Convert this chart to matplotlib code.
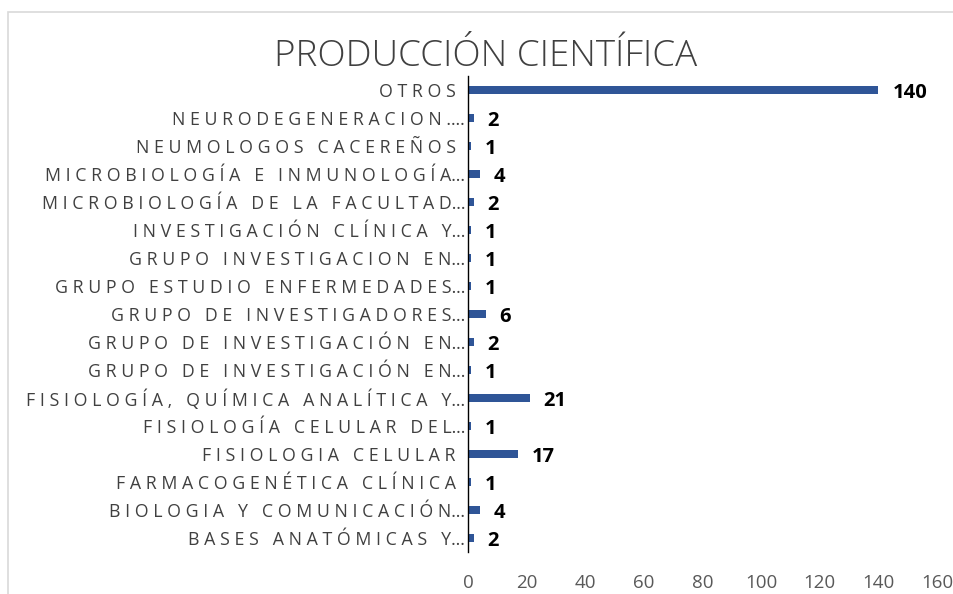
import matplotlib.pyplot as plt
from matplotlib.patches import Rectangle

# categories listed bottom -> top, as they appear on the chart
categories = [
    "BASES ANATÓMICAS Y…",
    "BIOLOGIA Y COMUNICACIÓN…",
    "FARMACOGENÉTICA CLÍNICA",
    "FISIOLOGIA CELULAR",
    "FISIOLOGÍA CELULAR DEL…",
    "FISIOLOGÍA, QUÍMICA ANALÍTICA Y…",
    "GRUPO DE INVESTIGACIÓN EN…",
    "GRUPO DE INVESTIGACIÓN EN…",
    "GRUPO DE INVESTIGADORES…",
    "GRUPO ESTUDIO ENFERMEDADES…",
    "GRUPO INVESTIGACION EN…",
    "INVESTIGACIÓN CLÍNICA Y…",
    "MICROBIOLOGÍA DE LA FACULTAD…",
    "MICROBIOLOGÍA E INMUNOLOGÍA…",
    "NEUMOLOGOS CACEREÑOS",
    "NEURODEGENERACION.…",
    "OTROS",
]
values = [2, 4, 1, 17, 1, 21, 1, 2, 6, 1, 1, 1, 2, 4, 1, 2, 140]
xticks = [0, 20, 40, 60, 80, 100, 120, 140, 160]

bar_color = "#2f5597"
text_grey = "#404040"


def spaced(s):
    # emulate the wide letter spacing of the original labels
    out = " ".join(ch for ch in s.replace("…", "\x00"))
    out = out.replace(" \x00", "…").replace("\x00", "…")
    if not s.endswith("…"):
        out = out + "  "
    return out


fig = plt.figure(figsize=(9.54, 5.94), dpi=100)
fig.patches.append(Rectangle((8 / 954, -0.01), 1.0, 1 - 12 / 594 + 0.01,
                             transform=fig.transFigure, fill=False,
                             edgecolor="#d9d9d9", linewidth=1.2))

ax = fig.add_axes([468 / 954, 1 - 552 / 594, (937 - 468) / 954, (552 - 76) / 594])

ypos = list(range(len(categories)))
ax.barh(ypos, values, height=0.3, color=bar_color)

for y, v in zip(ypos, values):
    ax.annotate(str(v), (v, y), xytext=(10, -2), textcoords="offset points",
                ha="left", va="center", fontsize=14.5, fontweight="bold",
                color="black", family="Open Sans")

ax.set_xlim(0, 160)
ax.set_ylim(-0.5, len(categories) - 0.5)
ax.set_yticks(ypos)
ax.set_yticklabels([spaced(c) for c in categories], fontsize=12.8,
                   color=text_grey, family="Open Sans")
ax.set_xticks(xticks)
ax.set_xticklabels([str(t) for t in xticks], fontsize=13.5,
                   color="#595959", family="Open Sans")
ax.tick_params(axis="y", length=0, pad=2)
ax.tick_params(axis="x", length=0, pad=16)

for side in ["top", "right", "bottom"]:
    ax.spines[side].set_visible(False)
ax.spines["left"].set_color("black")
ax.spines["left"].set_linewidth(1.0)

fig.text(0.509, 1 - 57 / 594, "PRODUCCIÓN CIENTÍFICA", ha="center", va="center",
         fontsize=26.5, color=text_grey, family="Open Sans", fontweight="light")

fig.savefig("out.png", dpi=100)
